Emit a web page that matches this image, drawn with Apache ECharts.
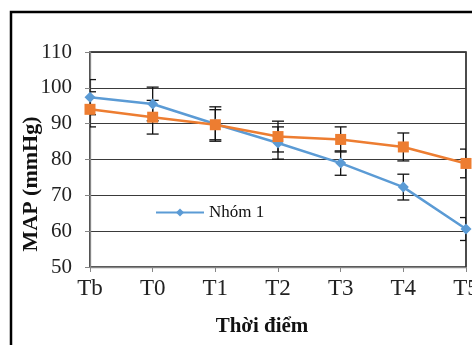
<!DOCTYPE html>
<html>
<head>
<meta charset="utf-8">
<script src="https://cdn.jsdelivr.net/npm/echarts@6/dist/echarts.min.js"></script>
<style>html,body{margin:0;padding:0;background:#fff;}#c{width:472px;height:345px;}</style>
</head>
<body>
<div id="c"></div>
<script>
var categories = ['Tb', 'T0', 'T1', 'T2', 'T3', 'T4', 'T5'];
var nhom1 = [97.4, 95.5, 89.9, 84.6, 79.0, 72.3, 60.6];
var nhom2 = [94.0, 91.8, 89.7, 86.4, 85.6, 83.5, 78.9];
var err1 = [4.9, 4.7, 4.8, 4.5, 3.4, 3.6, 3.2];
var err2 = [4.9, 4.7, 4.2, 4.3, 3.5, 3.9, 4.0];
var yTicks = [50, 60, 70, 80, 90, 100, 110];
var seriesNames = ['Nhóm 1', 'Nhóm 2'];
var yTitle = 'MAP (mmHg)';
var xTitle = 'Thời điểm';

var FONT = '"Liberation Serif", "Times New Roman", serif';

function errData(vals, errs) {
  return vals.map(function (v, i) { return [i, v - errs[i], v + errs[i]]; });
}
function renderErr(params, api) {
  var x = api.value(0);
  var lo = api.coord([x, api.value(1)]);
  var hi = api.coord([x, api.value(2)]);
  var w = 6;
  var st = { stroke: '#111', lineWidth: 1.3 };
  return {
    type: 'group',
    children: [
      { type: 'line', shape: { x1: hi[0], y1: hi[1], x2: lo[0], y2: lo[1] }, style: st },
      { type: 'line', shape: { x1: hi[0] - w, y1: hi[1], x2: hi[0] + w, y2: hi[1] }, style: st },
      { type: 'line', shape: { x1: lo[0] - w, y1: lo[1], x2: lo[0] + w, y2: lo[1] }, style: st }
    ]
  };
}

var chart = echarts.init(document.getElementById('c'), null, { renderer: 'canvas' });
chart.setOption({
  animation: false,
  backgroundColor: '#fff',
  grid: {
    left: 90, top: 52, right: 6, bottom: 78,
    outerBoundsMode: 'none', containLabel: false,
    show: true, borderColor: '#111', borderWidth: 1.5, backgroundColor: 'transparent'
  },
  legend: {
    data: [seriesNames[0]],
    left: 153, top: 202,
    itemWidth: 48, itemHeight: 10, itemGap: 5,
    backgroundColor: '#fff',
    padding: [2, 4, 2, 2],
    textStyle: { fontFamily: FONT, fontSize: 17, color: '#111' }
  },
  xAxis: {
    type: 'category',
    data: categories,
    boundaryGap: false,
    axisLine: { show: true, lineStyle: { color: '#868686', width: 1.3 } },
    axisTick: { show: true, length: 5, inside: false, lineStyle: { color: '#868686' } },
    axisLabel: { fontFamily: FONT, fontSize: 23, color: '#222', margin: 10 },
    splitLine: { show: false }
  },
  yAxis: {
    type: 'value',
    min: yTicks[0], max: yTicks[yTicks.length - 1], interval: 10,
    axisLine: { show: true, lineStyle: { color: '#868686', width: 1.3 } },
    axisTick: { show: true, length: 5, lineStyle: { color: '#868686' } },
    axisLabel: { fontFamily: FONT, fontSize: 21, color: '#222', margin: 18 },
    splitLine: { show: true, lineStyle: { color: '#3a3a3a', width: 1.2 } }
  },
  graphic: [
    { type: 'rect', silent: true, z: -10, shape: { x: 11, y: 12, width: 480, height: 360 },
      style: { fill: 'none', stroke: '#000', lineWidth: 2.5 } },
    { type: 'text', z: 100, x: 31, y: 184, rotation: Math.PI / 2, originX: 0, originY: 0,
      style: { text: yTitle, font: 'bold 22px ' + FONT, fill: '#111', align: 'center', verticalAlign: 'middle' } },
    { type: 'text', z: 100, x: 262, y: 327,
      style: { text: xTitle, font: 'bold 21px ' + FONT, fill: '#111', align: 'center', verticalAlign: 'middle' } }
  ],
  series: [
    {
      type: 'custom', name: 'err1', renderItem: renderErr, data: errData(nhom1, err1),
      encode: { x: 0, y: [1, 2] }, clip: true, z: 1, silent: true
    },
    {
      type: 'custom', name: 'err2', renderItem: renderErr, data: errData(nhom2, err2),
      encode: { x: 0, y: [1, 2] }, clip: true, z: 1, silent: true
    },
    {
      name: seriesNames[0], type: 'line', data: nhom1, z: 3,
      symbol: 'diamond', symbolSize: 11,
      lineStyle: { color: '#5B9BD5', width: 2.5 },
      itemStyle: { color: '#5B9BD5' }
    },
    {
      name: seriesNames[1], type: 'line', data: nhom2, z: 4,
      symbol: 'rect', symbolSize: 11,
      lineStyle: { color: '#ED7D31', width: 2.5 },
      itemStyle: { color: '#ED7D31' }
    }
  ]
});
</script>
</body>
</html>
